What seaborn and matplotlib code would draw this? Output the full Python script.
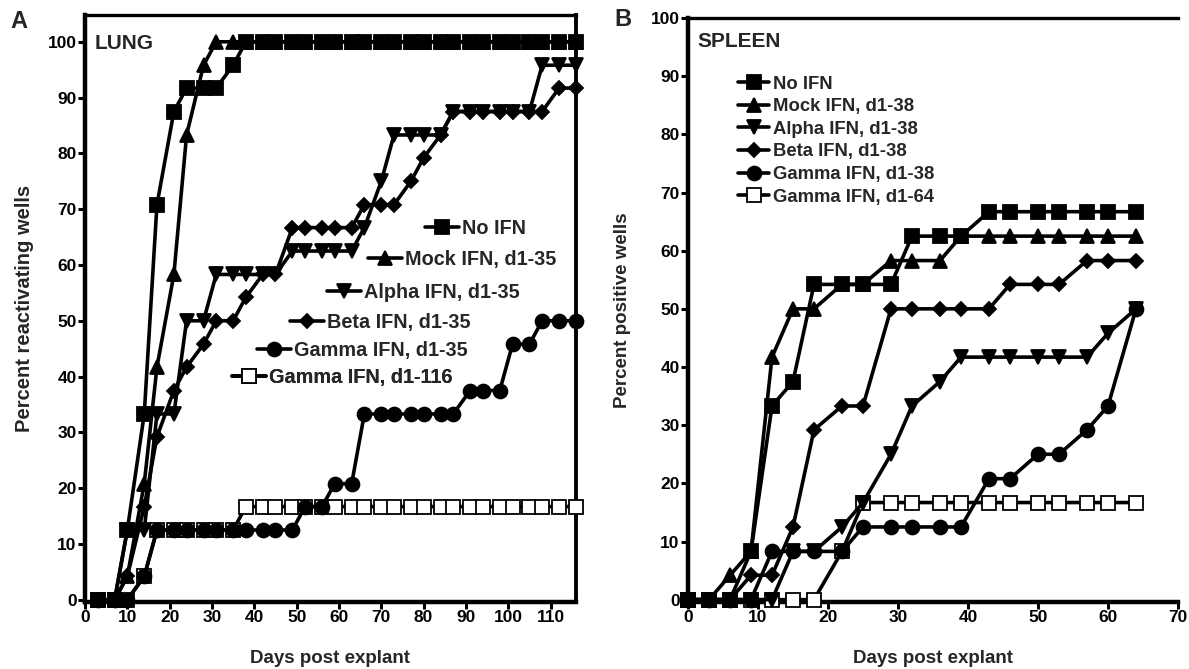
import matplotlib
matplotlib.use("Agg")
import matplotlib.pyplot as plt
from matplotlib.lines import Line2D
import seaborn as sns
import pandas as pd

sns.set_theme(style="white")
plt.rcParams['font.family'] = ['Liberation Sans', 'DejaVu Sans']
plt.rcParams['font.weight'] = 'bold'

# ---------------- Panel A: LUNG ----------------
days_lung = [3, 7, 10, 14, 17, 21, 24, 28, 31, 35, 38, 42, 45, 49, 52, 56, 59,
             63, 66, 70, 73, 77, 80, 84, 87, 91, 94, 98, 101, 105, 108, 112, 116]
lung_no_ifn = [0, 0, 12.5, 33.3, 70.8, 87.5, 91.7, 91.7, 91.7, 95.8, 100, 100, 100,
               100, 100, 100, 100, 100, 100, 100, 100, 100, 100, 100, 100, 100, 100,
               100, 100, 100, 100, 100, 100]
lung_mock = [0, 0, 4.2, 20.8, 41.7, 58.3, 83.3, 95.8, 100, 100, 100, 100, 100,
             100, 100, 100, 100, 100, 100, 100, 100, 100, 100, 100, 100, 100, 100,
             100, 100, 100, 100, 100, 100]
lung_alpha = [0, 0, 12.5, 12.5, 33.3, 33.3, 50, 50, 58.3, 58.3, 58.3, 58.3, 58.3,
              62.5, 62.5, 62.5, 62.5, 62.5, 66.7, 75, 83.3, 83.3, 83.3, 83.3, 87.5,
              87.5, 87.5, 87.5, 87.5, 87.5, 95.8, 95.8, 95.8]
lung_beta = [0, 0, 4.2, 16.7, 29.2, 37.5, 41.7, 45.8, 50, 50, 54.2, 58.3, 58.3,
             66.7, 66.7, 66.7, 66.7, 66.7, 70.8, 70.8, 70.8, 75, 79.2, 83.3, 87.5,
             87.5, 87.5, 87.5, 87.5, 87.5, 87.5, 91.7, 91.7]
lung_gamma = [0, 0, 0, 4.2, 12.5, 12.5, 12.5, 12.5, 12.5, 12.5, 12.5, 12.5, 12.5,
              12.5, 16.7, 16.7, 20.8, 20.8, 33.3, 33.3, 33.3, 33.3, 33.3, 33.3, 33.3,
              37.5, 37.5, 37.5, 45.8, 45.8, 50, 50, 50]
lung_gamma_long = [0, 0, 0, 4.2, 12.5, 12.5, 12.5, 12.5, 12.5, 12.5, 16.7, 16.7,
                   16.7, 16.7, 16.7, 16.7, 16.7, 16.7, 16.7, 16.7, 16.7, 16.7, 16.7,
                   16.7, 16.7, 16.7, 16.7, 16.7, 16.7, 16.7, 16.7, 16.7, 16.7]
lung_labels = ["No IFN", "Mock IFN, d1-35", "Alpha IFN, d1-35", "Beta IFN, d1-35",
               "Gamma IFN, d1-35", "Gamma IFN, d1-116"]

# ---------------- Panel B: SPLEEN ----------------
days_spleen = [0, 3, 6, 9, 12, 15, 18, 22, 25, 29, 32, 36, 39, 43, 46, 50, 53, 57, 60, 64]
spl_no_ifn = [0, 0, 0, 8.3, 33.3, 37.5, 54.2, 54.2, 54.2, 54.2, 62.5, 62.5, 62.5,
              66.7, 66.7, 66.7, 66.7, 66.7, 66.7, 66.7]
spl_mock = [0, 0, 4.2, 8.3, 41.7, 50, 50, 54.2, 54.2, 58.3, 58.3, 58.3, 62.5, 62.5,
            62.5, 62.5, 62.5, 62.5, 62.5, 62.5]
spl_alpha = [0, 0, 0, 0, 0, 8.3, 8.3, 12.5, 16.7, 25, 33.3, 37.5, 41.7, 41.7, 41.7,
             41.7, 41.7, 41.7, 45.8, 50]
spl_beta = [0, 0, 0, 4.2, 4.2, 12.5, 29.2, 33.3, 33.3, 50, 50, 50, 50, 50, 54.2,
            54.2, 54.2, 58.3, 58.3, 58.3]
spl_gamma = [0, 0, 0, 0, 8.3, 8.3, 8.3, 8.3, 12.5, 12.5, 12.5, 12.5, 12.5, 20.8,
             20.8, 25, 25, 29.2, 33.3, 50]
spl_gamma_long = [0, 0, 0, 0, 0, 0, 0, 8.3, 16.7, 16.7, 16.7, 16.7, 16.7, 16.7,
                  16.7, 16.7, 16.7, 16.7, 16.7, 16.7]
spleen_labels = ["No IFN", "Mock IFN, d1-38", "Alpha IFN, d1-38", "Beta IFN, d1-38",
                 "Gamma IFN, d1-38", "Gamma IFN, d1-64"]

# marker styles per series (order matches labels)
styles = [
    dict(marker='s', markersize=9.5, markerfacecolor='black'),
    dict(marker='^', markersize=9.5, markerfacecolor='black'),
    dict(marker='v', markersize=9.5, markerfacecolor='black'),
    dict(marker='D', markersize=7, markerfacecolor='black'),
    dict(marker='o', markersize=10, markerfacecolor='black'),
    dict(marker='s', markersize=10, markerfacecolor='white'),
]
LW = 2.6

fig = plt.figure(figsize=(11.89, 6.69), dpi=100)
axA = fig.add_axes([85/1189, 1-602/669, (576-85)/1189, (602-15)/669])
axB = fig.add_axes([688/1189, 1-602/669, (1178-688)/1189, (602-18)/669])


def draw(ax, days, series, labels):
    # draw the open square series first so filled markers sit on top
    order = [5, 4, 3, 2, 1, 0]
    for i in order:
        df = pd.DataFrame({"day": days, "pct": series[i]})
        st = styles[i]
        sns.lineplot(data=df, x="day", y="pct", ax=ax, color="black",
                     linewidth=LW, marker=st['marker'], markersize=st['markersize'],
                     markerfacecolor=st['markerfacecolor'], markeredgecolor='black',
                     markeredgewidth=1.3, legend=False, zorder=3 + (5 - i) * 0.1,
                     clip_on=False)


def handle(i):
    st = styles[i]
    return Line2D([0], [0], color='black', linewidth=LW, marker=st['marker'],
                  markersize=st['markersize'], markerfacecolor=st['markerfacecolor'],
                  markeredgecolor='black', markeredgewidth=1.3)


def style_axes(ax, xmax, xticks, ytop, right_spine=True):
    ax.set_xlim(0, xmax)
    ax.set_ylim(-0.4, ytop)
    ax.set_xticks(xticks)
    ax.set_yticks(range(0, 101, 10))
    ax.tick_params(axis='both', which='major', direction='out', length=5, width=2.2,
                   labelsize=12.5, pad=1, color='black', labelcolor='black',
                   bottom=True, left=True)
    for lab in ax.get_xticklabels() + ax.get_yticklabels():
        lab.set_fontweight('bold')
    for s in ['left', 'bottom']:
        ax.spines[s].set_linewidth(3.2)
        ax.spines[s].set_color('black')
    ax.spines['top'].set_linewidth(2.4)
    ax.spines['top'].set_color('black')
    if right_spine:
        ax.spines['right'].set_linewidth(2.8)
        ax.spines['right'].set_color('black')
    else:
        ax.spines['right'].set_visible(False)
    ax.set_facecolor('white')
    ax.grid(False)


# Panel A
draw(axA, days_lung, [lung_no_ifn, lung_mock, lung_alpha, lung_beta, lung_gamma,
                      lung_gamma_long], lung_labels)
style_axes(axA, 116, range(0, 111, 10), 104.8, right_spine=True)
axA.set_xlabel("Days post explant", fontsize=13.5, fontweight='bold', labelpad=18)
axA.set_ylabel("Percent reactivating wells", fontsize=14.5, fontweight='bold', labelpad=10)
axA.text(0.02, 0.951, "LUNG", transform=axA.transAxes, fontsize=15, fontweight='bold',
         va='center', ha='left')

# staggered legend entries in panel A
legA_pos = [(0.692, 0.637), (0.576, 0.583), (0.493, 0.528), (0.4175, 0.477),
            (0.350, 0.429), (0.299, 0.383)]
for i, (lx, ly) in enumerate(legA_pos):
    leg = axA.legend([handle(i)], [lung_labels[i]], loc='center left',
                     bbox_to_anchor=(lx, ly), frameon=False, borderpad=0,
                     borderaxespad=0, handlelength=1.7, handletextpad=0.15,
                     prop={'weight': 'bold', 'size': 14.3})
    axA.add_artist(leg)

# Panel B
draw(axB, days_spleen, [spl_no_ifn, spl_mock, spl_alpha, spl_beta, spl_gamma,
                        spl_gamma_long], spleen_labels)
style_axes(axB, 70, range(0, 71, 10), 100, right_spine=False)
axB.set_xlabel("Days post explant", fontsize=13.5, fontweight='bold', labelpad=18)
axB.set_ylabel("Percent positive wells", fontsize=13.5, fontweight='bold', labelpad=14)
axB.text(0.02, 0.959, "SPLEEN", transform=axB.transAxes, fontsize=15, fontweight='bold',
         va='center', ha='left')
axB.legend([handle(i) for i in range(6)], spleen_labels, loc='upper left',
           bbox_to_anchor=(0.102, 0.901), frameon=False, borderpad=0, borderaxespad=0,
           handlelength=1.7, handletextpad=0.2, labelspacing=0.3,
           prop={'weight': 'bold', 'size': 13.3})

fig.text(10/1189, 1-22/669, "A", fontsize=17, fontweight='bold', va='center', ha='left')
fig.text(614/1189, 1-20/669, "B", fontsize=17, fontweight='bold', va='center', ha='left')

fig.savefig("out.png", dpi=100, facecolor='white')
